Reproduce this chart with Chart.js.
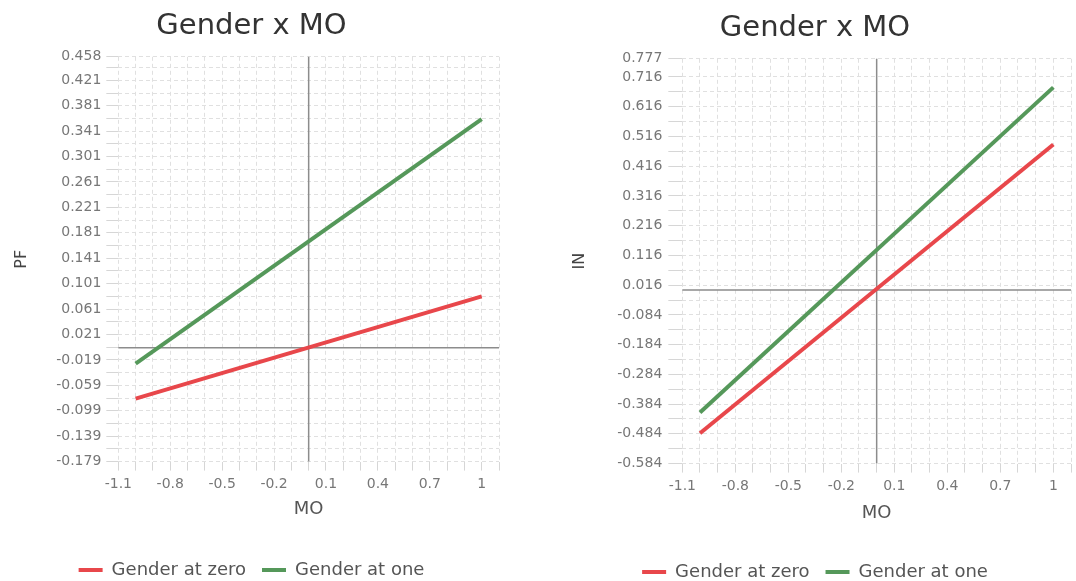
<!DOCTYPE html>
<html>
<head>
<meta charset="utf-8">
<script src="https://cdn.jsdelivr.net/npm/chart.js@4.4.1/dist/chart.umd.min.js"></script>
<style>
    body { margin: 0; background: #fff; overflow: hidden; }
    .panel { position: absolute; height: 589px; }
    #left { left: -8px; top: 0; width: 526px; }
    #right { left: 544px; top: 2px; width: 532px; }
</style>
</head>
<body>
<div class="panel" id="left"><canvas id="pfChart"></canvas></div>
<div class="panel" id="right"><canvas id="inChart"></canvas></div>
<script>
// data
const moValues = [-1, 1];
const seriesNames = ['Gender at zero', 'Gender at one'];
const xTickLabels = [-1.1, -0.8, -0.5, -0.2, 0.1, 0.4, 0.7, 1];

const pfTickLabels = [-0.179, -0.139, -0.099, -0.059, -0.019, 0.021, 0.061, 0.101, 0.141,
    0.181, 0.221, 0.261, 0.301, 0.341, 0.381, 0.421, 0.458];
const pfAtZero = [-0.080, 0.081];
const pfAtOne = [-0.025, 0.360];

const inTickLabels = [-0.584, -0.484, -0.384, -0.284, -0.184, -0.084, 0.016, 0.116, 0.216,
    0.316, 0.416, 0.516, 0.616, 0.716, 0.777];
const inAtZero = [-0.482, 0.489];
const inAtOne = [-0.412, 0.681];

const red = '#e8474b';
const green = '#55985a';
const font = "'DejaVu Sans', 'Open Sans', sans-serif";

const r3 = v => Math.round(v * 1000) / 1000;

// labelled ticks plus the unlabelled minor grid lines in between
function withMinor(labels, step) {
    const out = [];
    const max = labels[labels.length - 1];
    labels.forEach((v, i) => {
        out.push(v);
        const m = r3(v + step / 2);
        if (i < labels.length - 1 && m <= max - step / 4) out.push(m);
    });
    return out;
}

const zeroLines = {
    id: 'zeroLines',
    beforeDatasetsDraw(chart) {
        const {ctx, chartArea: a, scales: {x, y}} = chart;
        const px = x.getPixelForValue(0), py = y.getPixelForValue(0);
        ctx.save();
        ctx.strokeStyle = '#8c8c8c';
        ctx.lineWidth = 1.5;
        ctx.beginPath();
        ctx.moveTo(px, a.top); ctx.lineTo(px, a.bottom);
        ctx.moveTo(a.left, py); ctx.lineTo(a.right, py);
        ctx.stroke();
        ctx.restore();
    }
};

function makeChart(id, yTitle, yLabels, yStep, zero, one, lay) {
    const xGrid = [];
    for (let i = -11; i <= 11; i++) xGrid.push(r3(i / 10));
    const yGrid = withMinor(yLabels, yStep);

    return new Chart(document.getElementById(id), {
        type: 'line',
        data: {
            datasets: [
                {label: seriesNames[0], data: moValues.map((x, i) => ({x, y: zero[i]})),
                    borderColor: red, backgroundColor: red, borderWidth: 4, pointRadius: 0},
                {label: seriesNames[1], data: moValues.map((x, i) => ({x, y: one[i]})),
                    borderColor: green, backgroundColor: green, borderWidth: 4, pointRadius: 0}
            ]
        },
        options: {
            responsive: true,
            maintainAspectRatio: false,
            animation: false,
            layout: {padding: lay.pad},
            plugins: {
                title: {display: true, text: 'Gender x MO', color: '#333',
                    font: {family: font, size: 29, weight: 'normal'}, padding: {top: 5, bottom: 13}},
                legend: {
                    position: 'bottom',
                    labels: {
                        boxWidth: 24, boxHeight: 4, color: '#555', padding: 16,
                        font: {family: font, size: 18},
                        generateLabels: (c) => Chart.defaults.plugins.legend.labels.generateLabels(c)
                            .map(l => ({...l, lineWidth: 0}))
                    }
                },
                tooltip: {enabled: false}
            },
            scales: {
                x: {
                    type: 'linear', min: -1.1, max: 1.1,
                    afterBuildTicks: (axis) => { axis.ticks = xGrid.map(v => ({value: v})); },
                    ticks: {autoSkip: false, maxRotation: 0, color: '#777', padding: 5,
                        font: {family: font, size: 14},
                        callback: (v) => xTickLabels.includes(r3(v)) ? String(r3(v)) : ''},
                    grid: {color: '#e0e0e0', tickColor: '#d6d6d6', tickLength: 9},
                    border: {display: false, dash: [4, 3]},
                    title: {display: true, text: 'MO', color: '#555',
                        font: {family: font, size: 18}, padding: lay.xTitlePad}
                },
                y: {
                    type: 'linear', min: yLabels[0], max: yLabels[yLabels.length - 1],
                    afterBuildTicks: (axis) => { axis.ticks = yGrid.map(v => ({value: v})); },
                    ticks: {autoSkip: false, color: '#777', padding: lay.yTick.padding,
                        font: {family: font, size: 14},
                        callback: (v) => yLabels.includes(r3(v)) ? r3(v).toFixed(3) : ''},
                    grid: {color: '#e0e0e0', tickColor: '#d6d6d6', tickLength: lay.yTick.length},
                    border: {display: false, dash: [4, 3]},
                    title: {display: true, text: yTitle, color: '#444',
                        font: {family: font, size: 16}, padding: lay.yTitlePad}
                }
            }
        },
        plugins: [zeroLines]
    });
}

makeChart('pfChart', 'PF', pfTickLabels, 0.04, pfAtZero, pfAtOne, {
    pad: {left: 12, right: 19, top: 4, bottom: 0},
    xTitlePad: {top: 1, bottom: 25},
    yTitlePad: {top: 8, bottom: 20},
    yTick: {length: 12, padding: 5}
});
makeChart('inChart', 'IN', inTickLabels, 0.1, inAtZero, inAtOne, {
    pad: {left: 12, right: 2, top: 4, bottom: 0},
    xTitlePad: {top: 3, bottom: 23},
    yTitlePad: {top: 14, bottom: 22},
    yTick: {length: 14, padding: 6}
});
</script>
</body>
</html>
